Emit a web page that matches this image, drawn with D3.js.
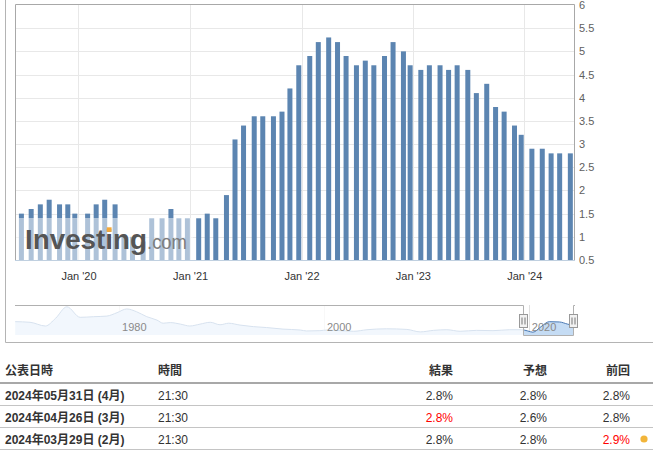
<!DOCTYPE html>
<html><head><meta charset="utf-8">
<script src="https://cdn.jsdelivr.net/npm/d3@7"></script>
<style>
html,body{margin:0;padding:0;background:#fff;}
svg{display:block;font-family:"Liberation Sans",Arial,"Noto Sans CJK JP",sans-serif;}
</style></head><body>
<svg id="c" width="653" height="450"></svg>
<script>
// ---------- DATA ----------
const releaseDates = [
  "2019-06-28","2019-07-30","2019-08-29","2019-09-27","2019-10-31","2019-11-27","2019-12-20",
  "2020-01-31","2020-02-28","2020-03-27","2020-04-30","2020-05-29","2020-06-26","2020-07-31",
  "2020-08-28","2020-10-01","2020-10-30","2020-11-25","2020-12-23",
  "2021-01-29","2021-02-26","2021-03-26","2021-04-30","2021-05-28","2021-06-25","2021-07-30",
  "2021-08-27","2021-10-01","2021-10-29","2021-11-24","2021-12-23",
  "2022-01-28","2022-02-25","2022-03-31","2022-04-29","2022-05-27","2022-06-30","2022-07-29",
  "2022-08-26","2022-09-30","2022-10-28","2022-12-01","2022-12-23",
  "2023-01-27","2023-02-24","2023-03-31","2023-04-28","2023-05-26","2023-06-30","2023-07-28",
  "2023-08-31","2023-09-29","2023-10-27","2023-11-30","2023-12-22",
  "2024-01-26","2024-02-29","2024-03-29","2024-04-26","2024-05-31"
];
const values = [
  1.5,1.6,1.7,1.8,1.7,1.7,1.5,
  1.5,1.7,1.8,1.7,1.0,1.0,0.9,
  1.4,1.4,1.6,1.4,1.4,
  1.4,1.5,1.4,1.9,3.1,3.4,3.6,
  3.6,3.6,3.7,4.2,4.7,
  4.9,5.2,5.3,5.2,4.9,4.7,4.8,
  4.7,4.9,5.2,5.0,4.7,
  4.6,4.7,4.7,4.6,4.7,4.6,4.1,
  4.3,3.8,3.7,3.4,3.2,
  2.9,2.9,2.8,2.8,2.8
];
const yTicks = [0.5,1,1.5,2,2.5,3,3.5,4,4.5,5,5.5,6];
const xTickYears = [2020,2021,2022,2023,2024];

const navYears = [1969.85,1971.3,1972.8,1973.8,1974.9,1976.2,1977.5,1978.8,1979.8,1980.75,1981.7,1982.7,
  1983.7,1984.3,1985.0,1986.0,1986.9,1987.9,1988.9,1989.85,1990.7,1991.8,1993.1,1994.4,1996.0,1997.7,
  1998.3,1999.6,2000.3,2001.6,2002.9,2004.2,2006.1,2008.1,2009.4,2010.7,2012.0,2013.3,2014.9,2016.5,
  2018.1,2019.3,2019.9,2020.4,2021.2,2022.0,2023.0,2023.8,2024.2,2024.4];
const navValues = [5.3,5.1,3.9,6.4,10.1,6.7,6.9,7.1,8.2,9.4,8.5,6.9,
  5.8,4.8,5.0,4.5,3.9,4.5,5.1,4.3,4.8,4.2,3.7,3.4,2.9,2.6,
  2.3,2.4,2.6,2.4,2.2,2.7,3.0,2.8,2.0,2.5,2.7,2.2,2.5,2.4,
  2.7,2.7,2.3,1.9,3.7,5.3,5.2,4.5,4.2,4.0];
const navTickYears = [1980,2000,2020];

const tableHeaders = ["公表日時","時間","結果","予想","前回"];
const tableDates = ["2024年05月31日 (4月)","2024年04月26日 (3月)","2024年03月29日 (2月)"];
const tableTimes = ["21:30","21:30","21:30"];
const actuals = ["2.8%","2.8%","2.8%"];
const forecasts = ["2.8%","2.6%","2.8%"];
const previous = ["2.8%","2.8%","2.9%"];
const previousRevised = [false,false,true];

// ---------- CHART ----------
const svg = d3.select("#c");
const parse = d3.timeParse("%Y-%m-%d");
const data = releaseDates.map((d,i)=>({date:parse(d), value:values[i]}));

const L = 15, R = 574, T = 5, B = 260;
const x = d3.scaleTime().domain([new Date(2019,5,7), new Date(2024,5,12)]).range([L,R]);
const y = d3.scaleLinear().domain([0.5,6]).range([B,T]);

// outer container border
svg.append("path").attr("d","M5.5,0V342.5H653").attr("fill","none").attr("stroke","#b4b4b4");

// gridlines
const grid = svg.append("g");
grid.selectAll("line.h").data(yTicks.slice(1,-1)).join("line")
  .attr("x1",L).attr("x2",R)
  .attr("y1",d=>Math.round(y(d))+0.5).attr("y2",d=>Math.round(y(d))+0.5)
  .attr("stroke","#e8e8e8");
const xTicks = xTickYears.map(yr=>new Date(yr,0,1));
grid.selectAll("line.v").data(xTicks).join("line")
  .attr("x1",d=>Math.round(x(d))+0.5).attr("x2",d=>Math.round(x(d))+0.5)
  .attr("y1",T).attr("y2",B)
  .attr("stroke","#e8e8e8");

// bars
const bw = 5;
svg.append("g").selectAll("rect").data(data).join("rect")
  .attr("x",d=>x(d.date)-bw/2).attr("width",bw)
  .attr("y",d=>y(d.value)).attr("height",d=>y(0.5)-y(d.value))
  .attr("fill","#5c85b1");

// watermark
const wm = svg.append("g");
wm.append("rect").attr("x",L).attr("y",218).attr("width",178).attr("height",B-218)
  .attr("fill","#fff").attr("opacity",0.5);
const inv = wm.append("text").attr("x",25).attr("y",249)
  .attr("font-size",28).attr("font-weight","bold").attr("fill","#555")
  .attr("textLength",122).attr("lengthAdjust","spacingAndGlyphs").text("Investing");
wm.append("text").attr("x",147).attr("y",249)
  .attr("font-size",21).attr("fill","#7d7d7d")
  .attr("textLength",40).attr("lengthAdjust","spacingAndGlyphs").text(".com");
try {
  const ext = inv.node().getExtentOfChar(6);
  const cx = ext.x + ext.width/2;
  wm.append("rect").attr("x",cx-2.4).attr("y",227.3).attr("width",4.8).attr("height",4.6)
    .attr("fill","#f5a93a");
} catch(e) {}

// frame
svg.append("path").attr("d",`M${L+0.5},${B}V${T-0.5}H${R+0.5}V${B}`)
  .attr("fill","none").attr("stroke","#a8a8a8");
// x axis line
svg.append("line").attr("x1",L).attr("x2",R+1).attr("y1",B+0.5).attr("y2",B+0.5)
  .attr("stroke","#c0d0e0");

// y axis (right)
const yAxis = svg.append("g").attr("transform",`translate(${R},0)`)
  .call(d3.axisRight(y).tickValues(yTicks).tickSize(0).tickPadding(5).tickFormat(d3.format("")));
yAxis.select(".domain").remove();
yAxis.selectAll("text").attr("font-size",11).attr("fill","#606060").attr("font-family",null);

// x axis
const xAxis = svg.append("g").attr("transform",`translate(0,${B})`)
  .call(d3.axisBottom(x).tickValues(xTicks).tickSize(0).tickPadding(12).tickFormat(d3.timeFormat("%b '%y")));
xAxis.select(".domain").remove();
xAxis.selectAll("text").attr("font-size",11).attr("fill","#333").attr("font-family",null);

// ---------- NAVIGATOR ----------
const NT = 305, NB = 335;
const yearToDate = yr => { const y0 = Math.floor(yr); const s = new Date(y0,0,1).getTime(); const e = new Date(y0+1,0,1).getTime(); return new Date(s + (yr-y0)*(e-s)); };
const navData = navYears.map((yr,i)=>({date:yearToDate(yr), value:navValues[i]}));
const nx = d3.scaleTime().domain([new Date(1969,10,1), new Date(2024,4,31)]).range([L,R]);
const ny = d3.scaleLinear().domain([1,10.35]).range([NB,306]);
const nav = svg.append("g");
nav.selectAll("line.ng").data(navTickYears).join("line")
  .attr("x1",d=>Math.round(nx(new Date(d,0,1)))+0.5).attr("x2",d=>Math.round(nx(new Date(d,0,1)))+0.5)
  .attr("y1",NT).attr("y2",NB).attr("stroke","#e0e0e0");
nav.append("path").datum(navData)
  .attr("d",d3.area().x(d=>nx(d.date)).y0(NB).y1(d=>ny(d.value)).curve(d3.curveMonotoneX))
  .attr("fill","#c5dcf4");
nav.append("path").datum(navData)
  .attr("d",d3.line().x(d=>nx(d.date)).y(d=>ny(d.value)).curve(d3.curveMonotoneX))
  .attr("fill","none").attr("stroke","#4a7ab5").attr("stroke-width",1);
const zL = Math.round(nx(x.domain()[0]))+0.5;
const zR = Math.min(Math.round(nx(x.domain()[1]))-0.5, R-0.5);
nav.append("rect").attr("x",L).attr("y",NT).attr("width",zL-L).attr("height",NB-NT+1)
  .attr("fill","#fff").attr("opacity",0.78);
nav.append("rect").attr("x",zR).attr("y",NT).attr("width",Math.max(0,R+1-zR)).attr("height",NB-NT+1)
  .attr("fill","#fff").attr("opacity",0.78);
nav.append("path").attr("d",`M${L},${NT+0.5}H${zL}V${NB+0.5}H${zR}V${NT+0.5}H${R+1}`)
  .attr("fill","none").attr("stroke","#b0b0b0");
nav.selectAll("text").data(navTickYears).join("text")
  .attr("x",d=>nx(new Date(d,0,1))+3).attr("y",330.5)
  .attr("font-size",11).attr("fill","#8a8a8a").text(d=>d);
[zL,zR].forEach(hx=>{
  const hg = nav.append("g");
  hg.append("rect").attr("x",Math.round(hx)-4.5).attr("y",314.5).attr("width",8).attr("height",13)
    .attr("fill","#f2f2f2").attr("stroke","#999");
  [-1.5,1.5].forEach(o=>hg.append("line").attr("x1",Math.round(hx)+o-0.5).attr("x2",Math.round(hx)+o-0.5)
    .attr("y1",317.5).attr("y2",324.5).attr("stroke","#777"));
});

// ---------- TABLE ----------
const tb = svg.append("g").attr("font-size",12).attr("fill","#333");
const colX = [5,158,453,547,630];
const colAnchor = ["start","start","end","end","end"];
tb.selectAll("text.h").data(tableHeaders).join("text")
  .attr("x",(d,i)=>colX[i]).attr("y",374.5).attr("text-anchor",(d,i)=>colAnchor[i])
  .attr("font-weight","bold").text(d=>d);
tb.append("line").attr("x1",0).attr("x2",653).attr("y1",383).attr("y2",383).attr("stroke","#a8a8a8").attr("stroke-width",2);
const rowBase = [399.5,421.5,443.5];
const rowLine = [405.5,427.5,449.5];
tableDates.forEach((d,i)=>{
  const by = rowBase[i];
  tb.append("text").attr("x",colX[0]).attr("y",by).attr("font-weight","bold").text(d);
  tb.append("text").attr("x",colX[1]).attr("y",by).text(tableTimes[i]);
  tb.append("text").attr("x",colX[2]).attr("y",by).attr("text-anchor","end")
    .attr("fill", actuals[i]!==forecasts[i] ? "#f00" : "#333").text(actuals[i]);
  tb.append("text").attr("x",colX[3]).attr("y",by).attr("text-anchor","end").text(forecasts[i]);
  tb.append("text").attr("x",colX[4]).attr("y",by).attr("text-anchor","end")
    .attr("fill", previousRevised[i] ? "#f00" : "#333").text(previous[i]);
  if (previousRevised[i]) tb.append("circle").attr("cx",644).attr("cy",by-4.5).attr("r",3.6).attr("fill","#f2b53a");
  tb.append("line").attr("x1",0).attr("x2",653).attr("y1",rowLine[i]).attr("y2",rowLine[i]).attr("stroke","#c4c4c4");
});
</script>
</body></html>
